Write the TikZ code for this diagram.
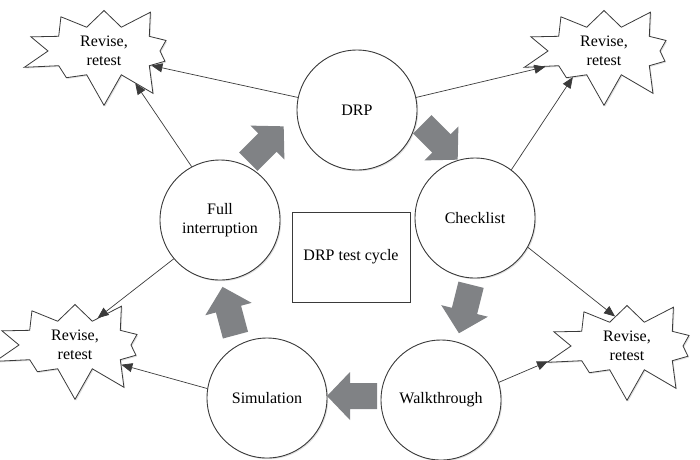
\documentclass[tikz,border=0pt]{standalone}
\usepackage{fontspec}
\setmainfont{Liberation Serif}
\usetikzlibrary{shapes.symbols,shadows,arrows.meta}
\definecolor{stageline}{HTML}{3A3A3A}
\definecolor{flowgray}{HTML}{808285}
\tikzset{
  softshadow/.style={drop shadow={shadow xshift=1.2pt, shadow yshift=-1.2pt, opacity=0.25}},
  stage/.style={circle, draw=stageline, line width=0.9pt, fill=white, minimum size=120pt,
                inner sep=0pt, align=center, font=\fontsize{16}{19}\selectfont, softshadow},
  burst/.style={starburst, starburst points=10, starburst point height=30pt, random starburst=12,
                draw=stageline, line width=0.8pt, fill=white, minimum width=172pt, minimum height=110pt,
                inner sep=0pt, align=center, font=\fontsize{16}{19}\selectfont, softshadow},
  cyclebox/.style={rectangle, draw=stageline, line width=0.9pt, fill=white, minimum width=118pt,
                   minimum height=90pt, font=\fontsize{16}{19}\selectfont, softshadow},
  flowarrow/.pic={\fill[flowgray] (-25,-13) -- (2,-13) -- (2,-24) -- (25,0) -- (2,24)
                  -- (2,13) -- (-25,13) -- cycle;},
  fb/.style={-{Triangle[length=11pt,width=9pt]}, line width=0.7pt, stageline},
}

\begin{document}
\begin{tikzpicture}[x=1pt, y=-1pt]
    \useasboundingbox (0,0) rectangle (700,459);
    \node[stage] (drp) at (357,110) {DRP};
    \node[stage] (chk) at (475,218) {Checklist};
    \node[stage] (walk) at (441,400) {Walkthrough};
    \node[stage] (sim) at (267,398) {Simulation};
    \node[stage] (full) at (220,220) {Full\\interruption};
    \node[cyclebox] (cyc) at (351,257) {DRP test cycle};
    \node[burst] (r1) at (104,51) {Revise,\\retest};
    \node[burst] (r2) at (604,51) {Revise,\\retest};
    \node[burst] (r3) at (75,345) {Revise,\\retest};
    \node[burst] (r4) at (627,346) {Revise,\\retest};
    \pic[rotate=45] (g1) at (266,144) {flowarrow};
    \pic[rotate=-45] (g2) at (440,142) {flowarrow};
    \pic[rotate=-104] (g3) at (465,309) {flowarrow};
    \pic[rotate=180] (g4) at (352,396) {flowarrow};
    \pic[rotate=105] (g5) at (229,311) {flowarrow};
    \draw[fb] (drp.168) -- (r1.-17);
    \draw[fb] (full.118) -- (r1.-46);
    \draw[fb] (drp.12) -- (r2.195);
    \draw[fb] (chk.53) -- (r2.220);
    \draw[fb] (chk.-29) -- (r4.112);
    \draw[fb] (walk.17) -- (r4.191);
    \draw[fb] (full.220) -- (r3.50);
    \draw[fb] (sim.171) -- (r3.-23);
  \end{tikzpicture}
\end{document}
